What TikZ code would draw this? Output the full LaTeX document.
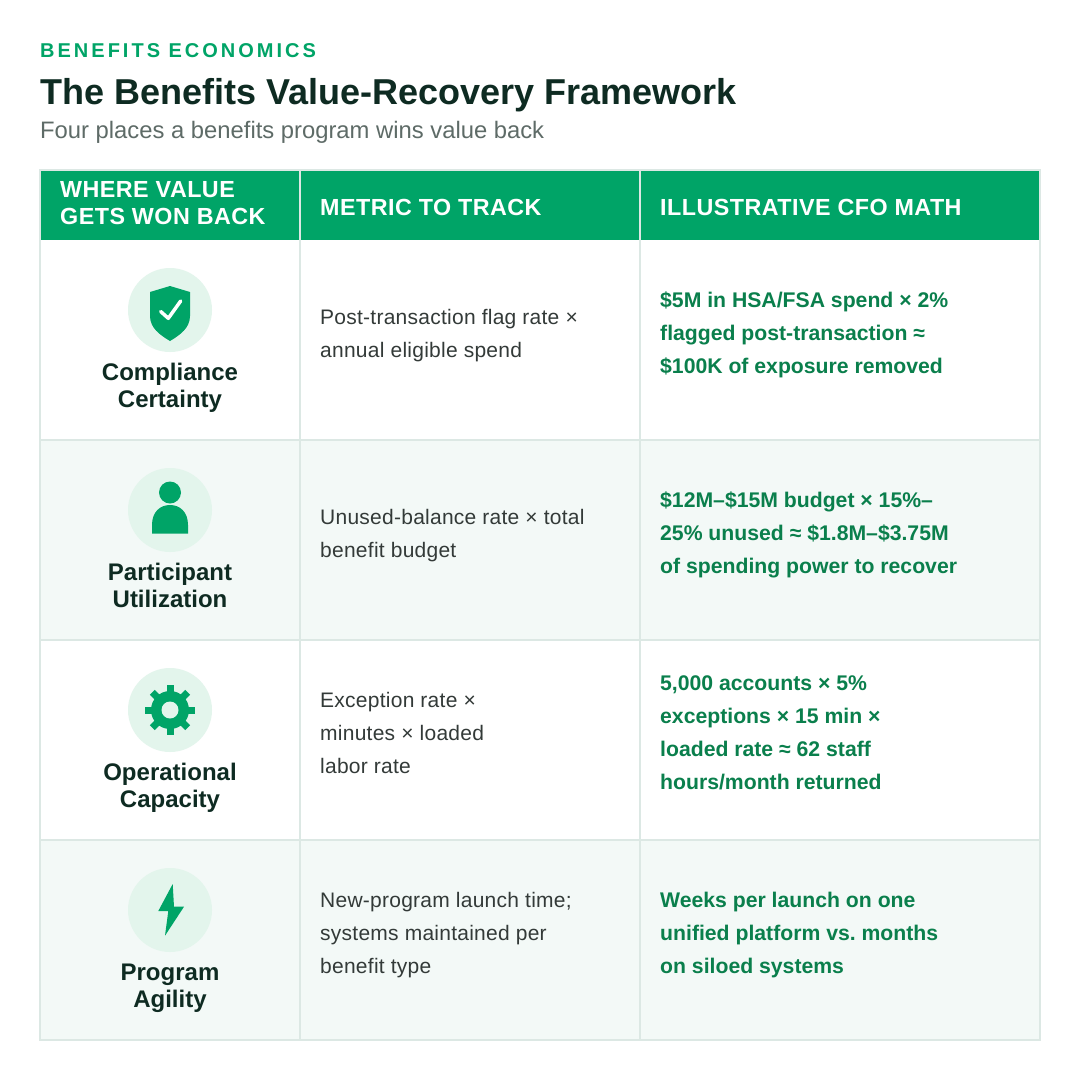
\documentclass[tikz,border=0pt]{standalone}
\usepackage{fontspec}
\setmainfont{Liberation Sans}
\newfontfamily\kickerfont[LetterSpace=15]{Liberation Sans}
\newfontfamily\headfont[LetterSpace=2]{Liberation Sans}
\newfontfamily\bodyfont[LetterSpace=1.2]{Liberation Sans}
\frenchspacing
\definecolor{brandgreen}{HTML}{00A467}
\definecolor{cfogreen}{HTML}{0A7F4C}
\definecolor{mintbg}{HTML}{E3F5EC}
\definecolor{altrow}{HTML}{F3F9F7}
\definecolor{gridgray}{HTML}{DCE8E4}
\definecolor{titleink}{HTML}{0E2B22}
\definecolor{subgray}{HTML}{5E6B67}
\definecolor{bodyink}{HTML}{333A38}
\tikzset{
  gridline/.style={draw=gridgray, line width=1.5pt},
  headtext/.style={anchor=west, align=left, inner sep=0pt, text=white,
    font=\headfont\bfseries\fontsize{23.3}{26.7}\selectfont},
  iconbg/.style={fill=mintbg},
  rowlabel/.style={align=center, inner sep=0pt, text=titleink,
    font=\bfseries\fontsize{24}{27}\selectfont, execute at end node={\vphantom{gy}}},
  metric/.style={anchor=west, align=left, inner sep=0pt, text=bodyink,
    font=\bodyfont\fontsize{21}{33}\selectfont, execute at end node={\vphantom{gy}}},
  cfomath/.style={anchor=west, align=left, inner sep=0pt, text=cfogreen,
    font=\bfseries\fontsize{21.2}{33}\selectfont, execute at end node={\vphantom{gy}}}
}
\begin{document}
\begin{tikzpicture}[x=1pt,y=-1pt]
  \fill[white] (0,0) rectangle (1080,1080);
  \useasboundingbox (0,0) rectangle (1080,1080);
  % heading
  \node[anchor=base west, inner sep=0pt, text=brandgreen, font=\kickerfont\bfseries\fontsize{20}{24}\selectfont] (kicker) at (40,57) {BENEFITS ECONOMICS};
  \node[anchor=base west, inner sep=0pt, text=titleink, font=\bfseries\fontsize{36}{40}\selectfont] (title) at (40,104) {The Benefits Value-Recovery Framework};
  \node[anchor=base west, inner sep=0pt, text=subgray, font=\fontsize{23.8}{27}\selectfont] (subtitle) at (40,138) {Four places a benefits program wins value back};
  % table
  \fill[altrow] (40,440) rectangle (1040,640);
  \fill[altrow] (40,840) rectangle (1040,1040);
  \fill[brandgreen] (40,170) rectangle (1040,240);
  \foreach \y in {440,640,840} \draw[gridline] (40,\y) -- (1040,\y);
  \foreach \x in {300,640} \draw[gridline] (\x,170) -- (\x,1040);
  \draw[gridline] (40,170) rectangle (1040,1040);
  \node[headtext] (hwhere) at (60,203) {WHERE VALUE\\GETS WON BACK};
  \node[headtext] (hmetric) at (320,207.5) {METRIC TO TRACK};
  \node[headtext] (hcfo) at (660,207.5) {ILLUSTRATIVE CFO MATH};
  % icons
  \foreach \t in {240,440,640,840} \fill[iconbg] (170,{\t+70}) circle (42);
  \fill[brandgreen] (170,286) -- (190,292) -- (190,316) .. controls (190,328) and (180,335) .. (170,341)
    .. controls (160,335) and (150,328) .. (150,316) -- (150,292) -- cycle;
  \draw[white, line width=3.5pt, line cap=round, line join=round] (160.7,311.5) -- (168.3,318.3) -- (180.7,301);
  \fill[brandgreen] (170,492.5) circle (11);
  \fill[brandgreen] (152,533.5) -- (152,525) .. controls (152,512) and (160,505) .. (170,505)
    .. controls (180,505) and (188,512) .. (188,525) -- (188,533.5) -- cycle;
  \fill[brandgreen] (170,710) circle (19);
  \foreach \a in {0,45,...,315}
    \fill[brandgreen, rotate around={\a:(170,710)}] (166.5,685) rectangle (173.5,698);
  \fill[mintbg] (170,710) circle (8.5);
  \fill[brandgreen] (172.7,884) -- (158.3,911) -- (168.3,911) -- (165,935.7) -- (184,906.7) -- (174,906.7) -- cycle;
  % row labels
  \node[rowlabel] (lcompliance) at (170,388) {Compliance\\Certainty};
  \node[rowlabel] (lparticipant) at (170,588) {Participant\\Utilization};
  \node[rowlabel] (loperational) at (170,788) {Operational\\Capacity};
  \node[rowlabel] (lprogram) at (170,988) {Program\\Agility};
  % metrics
  \node[metric] (mcompliance) at (320,336) {Post-transaction flag rate ×\\annual eligible spend};
  \node[metric] (mparticipant) at (320,536) {Unused-balance rate × total\\benefit budget};
  \node[metric] (moperational) at (320,735.5) {Exception rate ×\\minutes × loaded\\labor rate};
  \node[metric] (mprogram) at (320,935.5) {New-program launch time;\\systems maintained per\\benefit type};
  % cfo math
  \node[cfomath] (ccompliance) at (660,335) {\$5M in HSA/FSA spend × 2\%\\flagged post-transaction ≈\\\$100K of exposure removed};
  \node[cfomath] (cparticipant) at (660,535) {\$12M–\$15M budget × 15\%–\\25\% unused ≈ \$1.8M–\$3.75M\\of spending power to recover};
  \node[cfomath] (coperational) at (660,735) {5,000 accounts × 5\%\\exceptions × 15 min ×\\loaded rate ≈ 62 staff\\hours/month returned};
  \node[cfomath] (cprogram) at (660,935) {Weeks per launch on one\\unified platform vs. months\\on siloed systems};
\end{tikzpicture}
\end{document}
